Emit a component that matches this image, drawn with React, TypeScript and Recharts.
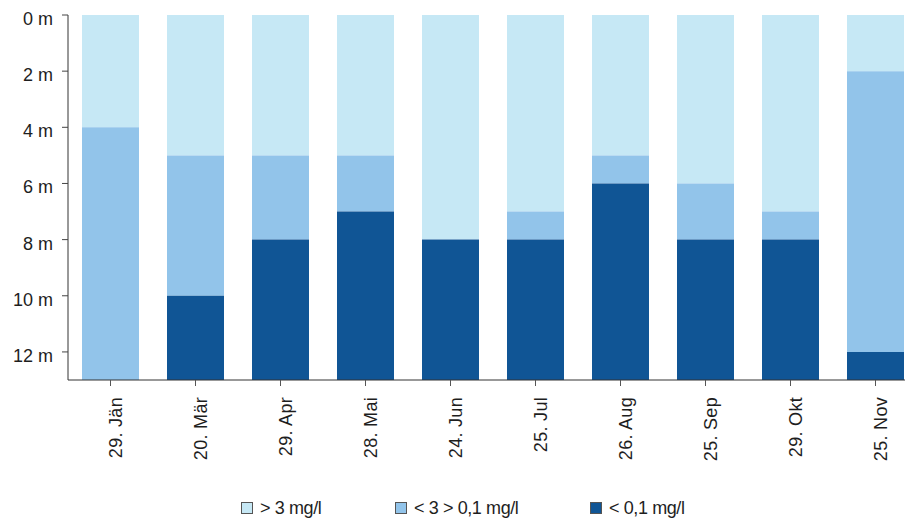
import React from "react";
import { BarChart, Bar, XAxis, YAxis, Legend } from "recharts";

const categories = ["29. Jän", "20. Mär", "29. Apr", "28. Mai", "24. Jun", "25. Jul", "26. Aug", "25. Sep", "29. Okt", "25. Nov"];
const highOxygen = [4, 5, 5, 5, 8, 7, 5, 6, 7, 2];
const midOxygen = [9, 5, 3, 2, 0, 1, 1, 2, 1, 10];
const lowOxygen = [0, 3, 5, 6, 5, 5, 7, 5, 5, 1];
const depthTicks = [0, 2, 4, 6, 8, 10, 12];
const seriesNames = ["> 3 mg/l", "< 3 > 0,1 mg/l", "< 0,1 mg/l"];
const seriesColors = ["#C6E8F5", "#92C4EA", "#105595"];

const data = categories.map((c, i) => ({
  name: c,
  high: highOxygen[i],
  mid: midOxygen[i],
  low: lowOxygen[i],
}));

const FONT = "'Liberation Sans', Arial, sans-serif";

const XTick = (props: any) => {
  const { x, y, payload } = props;
  return (
    <text
      x={0}
      y={0}
      transform={`translate(${x + 11},${y + 9}) rotate(-90)`}
      textAnchor="end"
      fontSize={18}
      fontFamily={FONT}
      fill="#1e1e1e"
      letterSpacing={0.3}
    >
      {payload.value}
    </text>
  );
};

const YTick = (props: any) => {
  const { x, y, payload } = props;
  return (
    <text x={x} y={y + 10} textAnchor="end" fontSize={18} fontFamily={FONT} fill="#1e1e1e">
      {`${payload.value} m`}
    </text>
  );
};

const itemWidths = [154, 195, 160];

const LegendContent = (props: any) => {
  const { payload } = props;
  const items = seriesNames.map((n) => (payload || []).find((p: any) => p.value === n)).filter(Boolean);
  return (
    <div style={{ display: "flex", paddingLeft: 241, fontFamily: FONT, fontSize: 18, color: "#1e1e1e", lineHeight: "20px" }}>
      {items.map((p: any, i: number) => (
        <div key={i} style={{ width: itemWidths[i], display: "flex", alignItems: "center" }}>
          <span
            style={{
              display: "inline-block",
              width: 10,
              height: 10,
              background: p.color,
              border: "1px solid #555",
              marginRight: 7,
            }}
          />
          <span style={{ letterSpacing: -0.4 }}>{p.value}</span>
        </div>
      ))}
    </div>
  );
};

export default function App() {
  return (
    <div style={{ position: "fixed", left: 0, top: 0, width: 905, height: 522, overflow: "hidden", background: "#fff" }}>
      <BarChart
        width={920}
        height={522}
        data={data}
        margin={{ top: 15, right: 2, left: 0, bottom: 0 }}
        barSize={57}
      >
        <XAxis
          dataKey="name"
          height={142}
          tick={<XTick />}
          tickLine={{ stroke: "#555" }}
          tickSize={6}
          axisLine={{ stroke: "#333", strokeWidth: 1 }}
          interval={0}
        />
        <YAxis
          reversed
          domain={[0, 13]}
          ticks={depthTicks}
          width={68}
          tickSize={6}
          tickMargin={9}
          tick={<YTick />}
          tickLine={{ stroke: "#444" }}
          axisLine={{ stroke: "#333", strokeWidth: 1 }}
          allowDataOverflow
        />
        <Legend
          layout="horizontal"
          verticalAlign="middle"
          align="center"
          wrapperStyle={{ top: 498, left: 0, width: 905 }}
          content={<LegendContent />}
        />
        <Bar dataKey="high" name={seriesNames[0]} stackId="a" fill={seriesColors[0]} isAnimationActive={false} />
        <Bar dataKey="mid" name={seriesNames[1]} stackId="a" fill={seriesColors[1]} isAnimationActive={false} />
        <Bar dataKey="low" name={seriesNames[2]} stackId="a" fill={seriesColors[2]} isAnimationActive={false} />
      </BarChart>
    </div>
  );
}
